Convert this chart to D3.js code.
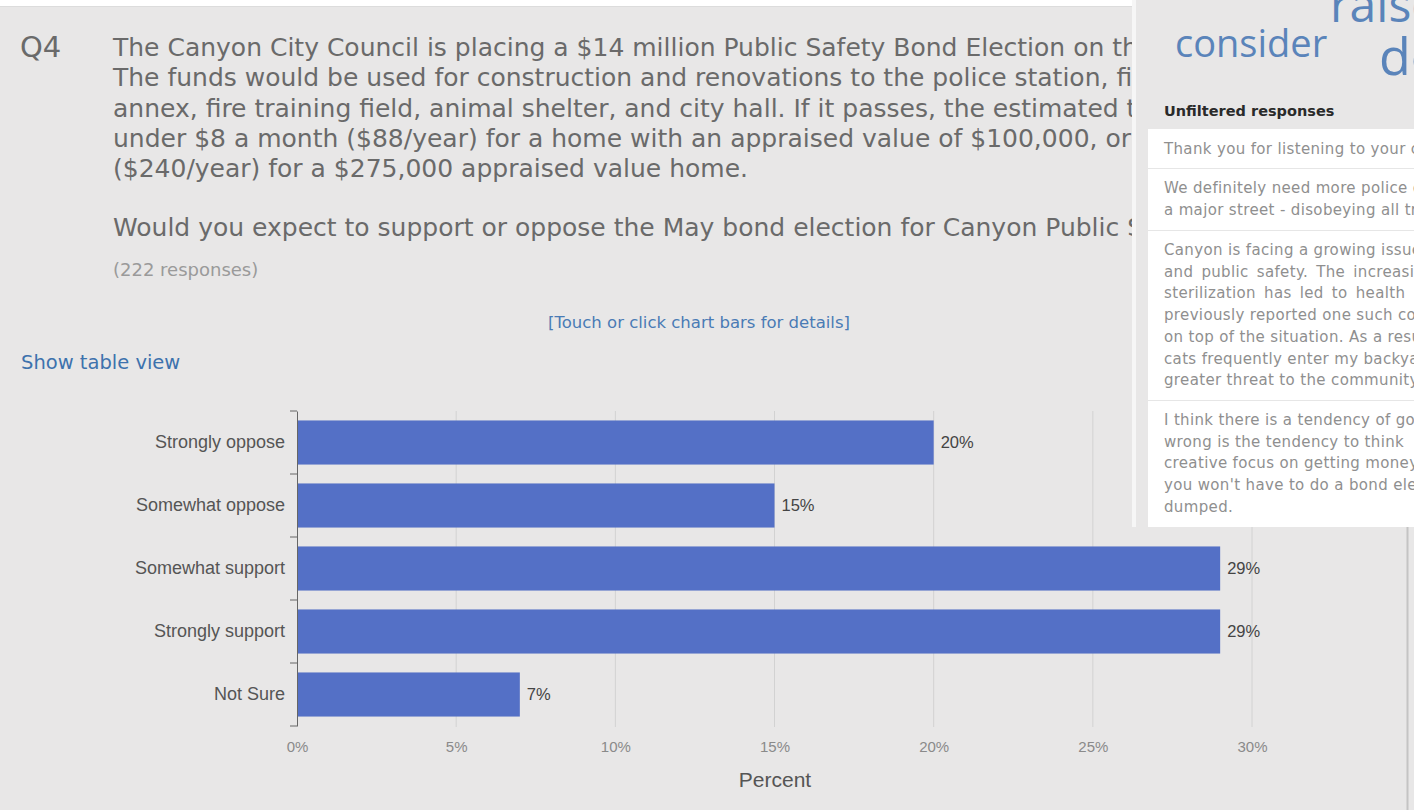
<!DOCTYPE html>
<html>
<head>
<meta charset="utf-8">
<script src="https://cdn.jsdelivr.net/npm/d3@7/dist/d3.min.js"></script>
<style>
  body { margin: 0; background: #e8e7e7; overflow: hidden; }
  svg { display: block; }
</style>
</head>
<body>
<svg id="chart"></svg>
<script>
// chart data
const categories = ["Strongly oppose", "Somewhat oppose", "Somewhat support", "Strongly support", "Not Sure"];
const percents = [20, 15, 29, 29, 7];
const tickValues = [0, 5, 10, 15, 20, 25, 30];

// question texts
const questionLines = [
    "The Canyon City Council is placing a $14 million Public Safety Bond Election on the May ballot.",
    "The funds would be used for construction and renovations to the police station, fire station",
    "annex, fire training field, animal shelter, and city hall. If it passes, the estimated tax impact is",
    "under $8 a month ($88/year) for a home with an appraised value of $100,000, or $20 a month",
    "($240/year) for a $275,000 appraised value home."
];
const followUp = "Would you expect to support or oppose the May bond election for Canyon Public Safety?";
const responseCount = "(222 responses)";

// overlay panel texts
const cloudWords = ["raise", "consider", "de"];
const responses = [
    ["Thank you for listening to your citizens."],
    ["We definitely need more police on patrol, I see cars speeding down",
     "a major street - disobeying all traffic laws."],
    ["Canyon is facing a growing issue with stray cats",
     "and public safety. The increasing number",
     "sterilization has led to health risks.",
     "previously reported one such colony",
     "on top of the situation. As a result",
     "cats frequently enter my backyard",
     "greater threat to the community."],
    ["I think there is a tendency of government",
     "wrong is the tendency to think",
     "creative focus on getting money",
     "you won't have to do a bond election",
     "dumped."]
];

const W = 1414, H = 810;
const svg = d3.select("#chart").attr("width", W).attr("height", H);

// page background + top strip
svg.append("rect").attr("width", W).attr("height", H).attr("fill", "#e8e7e7");
svg.append("rect").attr("width", W).attr("height", 6).attr("fill", "#ffffff");
svg.append("line").attr("x1", 0).attr("x2", W).attr("y1", 6.5).attr("y2", 6.5)
    .attr("stroke", "#dcdcdc");

const textFont = "'DejaVu Sans', sans-serif";
const chartFont = "'Liberation Sans', Arial, sans-serif";

// question header
svg.append("text").attr("x", 20).attr("y", 57)
    .style("font-family", textFont).style("font-size", "29px").attr("fill", "#6a6a6a")
    .text("Q4");

const q = svg.append("g").style("font-family", textFont).style("font-size", "25px").attr("fill", "#6a6a6a");
questionLines.forEach((line, i) => {
    q.append("text").attr("x", 113).attr("y", 56 + i * 30.3).text(line);
});
q.append("text").attr("x", 113).attr("y", 236).text(followUp);

svg.append("text").attr("x", 113).attr("y", 276)
    .style("font-family", textFont).style("font-size", "18px").attr("fill", "#9a9a9a")
    .text(responseCount);

svg.append("text").attr("x", 699).attr("y", 328).attr("text-anchor", "middle")
    .style("font-family", textFont).style("font-size", "16.5px").attr("fill", "#4a7bb5")
    .text("[Touch or click chart bars for details]");

svg.append("text").attr("x", 21).attr("y", 369)
    .style("font-family", textFont).style("font-size", "19.5px").attr("fill", "#3d72ad")
    .text("Show table view");

// bar chart
const x = d3.scaleLinear().domain([0, 30]).range([297, 1252]);
const y = d3.scaleBand().domain(categories).range([411, 726]).paddingInner(0.3).paddingOuter(0.15);

const chart = svg.append("g");

// vertical grid lines
chart.selectAll(".grid")
    .data(tickValues.filter(d => d > 0))
    .enter().append("line")
    .attr("x1", d => x(d)).attr("x2", d => x(d))
    .attr("y1", 411).attr("y2", 727)
    .attr("stroke", "#d2d2d2").attr("stroke-width", 1);

// x tick labels
const xAxis = d3.axisBottom(x).tickValues(tickValues).tickSize(0).tickPadding(0)
    .tickFormat(d => d + "%");
chart.append("g").attr("transform", "translate(0,741)").call(xAxis)
    .call(g => g.select(".domain").remove())
    .selectAll("text")
    .style("font-family", chartFont).style("font-size", "15px").attr("fill", "#8a8a8a");

chart.append("text").attr("x", 775).attr("y", 787).attr("text-anchor", "middle")
    .style("font-family", chartFont).style("font-size", "21px").attr("fill", "#555")
    .text("Percent");

// bars
chart.selectAll(".bar")
    .data(categories)
    .enter().append("rect")
    .attr("x", x(0) + 1)
    .attr("y", d => y(d))
    .attr("width", (d, i) => x(percents[i]) - x(0) - 1)
    .attr("height", y.bandwidth())
    .attr("fill", "#5470c6");

// value labels
chart.selectAll(".val")
    .data(categories)
    .enter().append("text")
    .attr("x", (d, i) => x(percents[i]) + 7)
    .attr("y", d => y(d) + y.bandwidth() / 2)
    .attr("dy", "0.35em")
    .style("font-family", chartFont).style("font-size", "16.5px").attr("fill", "#444")
    .text((d, i) => percents[i] + "%");

// y axis: labels at band centres, ticks at band boundaries
const yAxis = d3.axisLeft(y).tickSize(0).tickPadding(12);
chart.append("g").attr("transform", "translate(297,0)").call(yAxis)
    .call(g => g.select(".domain").attr("stroke", "#666"))
    .selectAll("text")
    .style("font-family", chartFont).style("font-size", "18px").attr("fill", "#555");

const bounds = d3.range(categories.length + 1).map(i => 411 + i * y.step());
chart.selectAll(".ytick")
    .data(bounds)
    .enter().append("line")
    .attr("x1", 290).attr("x2", 297)
    .attr("y1", d => d).attr("y2", d => d)
    .attr("stroke", "#666");

// container right border
svg.append("line").attr("x1", 1407.5).attr("x2", 1407.5).attr("y1", 0).attr("y2", H)
    .attr("stroke", "#c4c4c4").attr("stroke-width", 2);

// overlay panel (screenshot of another widget)
const panel = svg.append("g");
panel.append("rect").attr("x", 1133).attr("y", 0).attr("width", W - 1133).attr("height", 527)
    .attr("fill", "#e8e7e7");
panel.append("rect").attr("x", 1132).attr("y", 0).attr("width", 4).attr("height", 527)
    .attr("fill", "#f6f6f6");

const cloudFont = "'Open Sans', sans-serif";
panel.append("text").attr("x", 1330).attr("y", 22)
    .style("font-family", cloudFont).style("font-size", "48px").attr("fill", "#5a84ba")
    .text(cloudWords[0]);
panel.append("text").attr("x", 1175).attr("y", 57)
    .style("font-family", cloudFont).style("font-size", "38px").attr("fill", "#5a84ba")
    .text(cloudWords[1]);
panel.append("text").attr("x", 1379).attr("y", 75)
    .style("font-family", cloudFont).style("font-size", "52px").attr("fill", "#5a84ba")
    .text(cloudWords[2]);

panel.append("text").attr("x", 1164).attr("y", 116)
    .style("font-family", textFont).style("font-size", "14.5px").style("font-weight", "bold")
    .attr("fill", "#2a2a2a")
    .text("Unfiltered responses");

panel.append("rect").attr("x", 1148).attr("y", 129).attr("width", W - 1148).attr("height", 398)
    .attr("fill", "#ffffff");

const itemTops = [129, 168, 230, 400];
const lineGap = 21.7;
itemTops.slice(1).forEach(t => {
    panel.append("line").attr("x1", 1148).attr("x2", W).attr("y1", t + 0.5).attr("y2", t + 0.5)
        .attr("stroke", "#e6e6e6");
});
responses.forEach((lines, i) => {
    lines.forEach((line, j) => {
        panel.append("text").attr("x", 1164).attr("y", itemTops[i] + 25 + j * lineGap)
            .style("font-family", textFont).style("font-size", "15px").attr("fill", "#8f8f8f")
            .style("letter-spacing", "0.35px")
            .style("word-spacing", i === 2 && (j === 1 || j === 2) ? "3px" : "0px")
            .text(line);
    });
});
</script>
</body>
</html>
